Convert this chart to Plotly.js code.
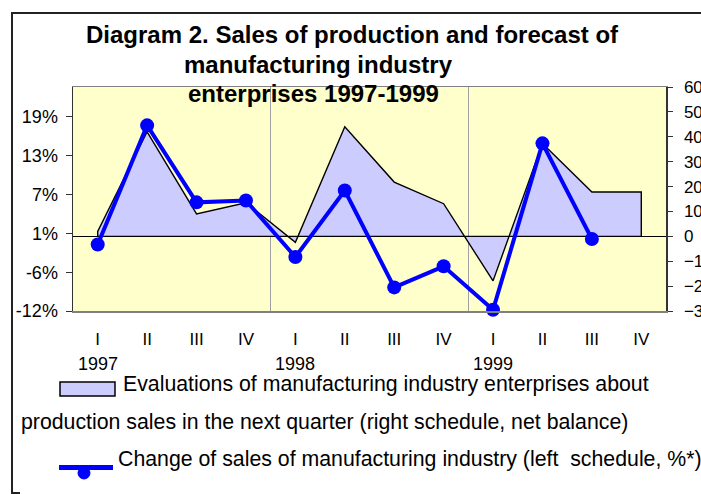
<!DOCTYPE html>
<html>
<head>
<meta charset="utf-8">
<script src="https://cdn.plot.ly/plotly-3.0.1.min.js"></script>
<style>
  html, body { margin: 0; padding: 0; background: #fff; }
  #wrap { position: relative; width: 701px; height: 494px; overflow: hidden; }
  #chart { width: 701px; height: 494px; }
  #frame { position: absolute; left: 11px; top: 12px; width: 720px; height: 481px;
           border-left: 2px solid #222; border-top: 2px solid #222;
           pointer-events: none; }
  #frameFoot { position: absolute; left: 11px; top: 492px; width: 9px; height: 0;
           border-top: 2px solid #222; pointer-events: none; }
</style>
</head>
<body>
<div id="wrap">
  <div id="chart"></div>
  <div id="frame"></div>
  <div id="frameFoot"></div>
</div>
<script>
// ---- data ----
const quarterLabels = ['I', 'II', 'III', 'IV', 'I', 'II', 'III', 'IV', 'I', 'II', 'III', 'IV'];
const yearLabels = ['1997', '1998', '1999'];
// Change of sales of manufacturing industry, % (left axis)
const salesChange = [-1.3, 17.9, 5.5, 5.8, -3.3, 7.4, -8.2, -4.8, -11.8, 15.0, -0.4, null];
// Evaluations of enterprises about production sales next quarter, net balance (right axis)
const evaluations = [2, 42, 9, 13.5, -2.4, 44, 21.8, 13.1, -17.9, 37.3, 17.8, 17.8];
// right axis ticks
const rightTickVals = [-30, -20, -10, 0, 10, 20, 30, 40, 50, 60];
// left axis ticks (Excel step 6.25 %, labels rounded)
const leftTickVals = [-12, -5.75, 0.5, 6.75, 13, 19.25];
const leftTickText = ['-12%', '-6%', '1%', '7%', '13%', '19%'];

const titleLines = [
  'Diagram 2. Sales of production and forecast of',
  'manufacturing industry',
  'enterprises 1997-1999'
];
const legendTexts = [
  'Evaluations of manufacturing industry enterprises about',
  'production sales in the next quarter (right schedule, net balance)',
  'Change of sales of manufacturing industry (left  schedule, %*)'
];

// ---- geometry helpers (pixel -> paper) ----
const M = { l: 73, r: 35, t: 87, b: 183 };
const W = 701, H = 494;
const PW = W - M.l - M.r, PH = H - M.t - M.b;
const px = X => (X - M.l) / PW;
const py = Y => (H - M.b - Y) / PH;

const idx = quarterLabels.map((_, i) => i);

// area polygon closed along zero line
const areaX = [idx[0]].concat(idx, [idx[idx.length - 1], idx[0]]);
const areaY = [0].concat(evaluations, [0, 0]);

const traces = [
  {
    type: 'scatter', mode: 'lines', x: areaX, y: areaY, yaxis: 'y',
    fill: 'toself', fillcolor: '#CCCCFF',
    line: { color: '#000000', width: 1.4 },
    hoverinfo: 'skip', showlegend: false
  },
  {
    type: 'scatter', mode: 'lines+markers', x: idx, y: salesChange, yaxis: 'y2',
    line: { color: '#0000FF', width: 4 },
    marker: { color: '#0000FF', size: 14, symbol: 'circle' },
    cliponaxis: false,
    hoverinfo: 'skip', showlegend: false
  }
];

const txtFont = { family: 'Liberation Sans, Arial, sans-serif', color: '#000' };
const annotations = [];
const titleCenters = [[352.5, 35], [318.5, 64], [313.5, 93]];
titleLines.forEach((t, i) => annotations.push({
  text: '<b>' + t + '</b>', xref: 'paper', yref: 'paper',
  x: px(titleCenters[i][0]), y: py(titleCenters[i][1]),
  xanchor: 'center', yanchor: 'middle', showarrow: false,
  font: Object.assign({}, txtFont, { size: 24 })
}));
yearLabels.forEach((yl, i) => annotations.push({
  text: yl, xref: 'x', yref: 'paper', x: idx[i * 4], y: py(364),
  xanchor: 'center', yanchor: 'middle', showarrow: false,
  font: Object.assign({}, txtFont, { size: 18 })
}));
const legendPos = [[121, 384], [19, 422], [116, 459]];
legendTexts.forEach((t, i) => annotations.push({
  text: t, xref: 'paper', yref: 'paper',
  x: px(legendPos[i][0]), y: py(legendPos[i][1]),
  xanchor: 'left', yanchor: 'middle', showarrow: false,
  font: Object.assign({}, txtFont, { size: 21.3 })
}));

const shapes = [
  { type: 'rect', xref: 'paper', yref: 'paper', x0: px(60), x1: px(115), y0: py(396), y1: py(382),
    fillcolor: '#CCCCFF', line: { color: '#000', width: 1.5 } },
  { type: 'line', xref: 'paper', yref: 'paper', x0: px(59), x1: px(113), y0: py(467.5), y1: py(467.5),
    line: { color: '#0000FF', width: 5 } },
  { type: 'circle', xref: 'paper', yref: 'paper', x0: px(78), x1: px(90), y0: py(479), y1: py(467),
    fillcolor: '#0000FF', line: { color: '#0000FF', width: 1 } }
];

const yearBoundaries = yearLabels.slice(1).map((_, i) => (i + 1) * 4 - 0.5);

const layout = {
  width: W, height: H,
  margin: M,
  paper_bgcolor: '#FFFFFF',
  plot_bgcolor: '#FFFFCC',
  showlegend: false,
  xaxis: {
    range: [-0.5, quarterLabels.length - 0.5],
    tickmode: 'array', tickvals: idx, ticktext: quarterLabels,
    ticks: '', showgrid: false, zeroline: false,
    showline: true, linecolor: '#808080', linewidth: 1.5, mirror: true,
    tickfont: Object.assign({}, txtFont, { size: 17 }),
    ticklabelstandoff: 12,
    minor: { tickmode: 'array', tickvals: yearBoundaries, showgrid: true, gridcolor: '#A0A0A0', gridwidth: 1, ticks: '' }
  },
  // primary axis: evaluations, drawn on the right
  yaxis: {
    side: 'right',
    range: [-30, 60], tickmode: 'array', tickvals: rightTickVals,
    ticks: 'outside', ticklen: 5, tickcolor: '#333', tickwidth: 1,
    showgrid: false, zeroline: true, zerolinecolor: '#000', zerolinewidth: 1.5,
    showline: true, linecolor: '#333', linewidth: 1.5,
    tickfont: Object.assign({}, txtFont, { size: 17 }),
    ticklabelstandoff: 8
  },
  // overlaying axis: sales change %, drawn on the left (above the area)
  yaxis2: {
    overlaying: 'y', side: 'left',
    range: [-12, 24.08],
    tickmode: 'array', tickvals: leftTickVals, ticktext: leftTickText,
    ticks: 'outside', ticklen: 6, tickcolor: '#333', tickwidth: 1,
    showgrid: false, zeroline: false,
    showline: true, linecolor: '#333', linewidth: 1.5,
    tickfont: Object.assign({}, txtFont, { size: 18 }),
    ticklabelstandoff: 4
  },
  annotations: annotations,
  shapes: shapes
};

Plotly.newPlot('chart', traces, layout, { staticPlot: true, displayModeBar: false });
</script>
</body>
</html>
